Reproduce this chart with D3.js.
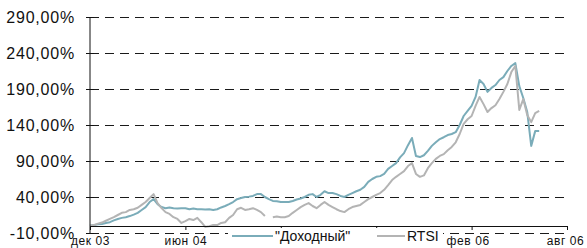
<!DOCTYPE html>
<html><head><meta charset="utf-8">
<script src="https://cdn.jsdelivr.net/npm/d3@7"></script>
<style>body{margin:0;background:#fff}svg{display:block}text{font-family:Arial,"Liberation Sans",sans-serif}</style>
</head><body><svg id="c" width="587" height="248"></svg>
<script>
const seriesNames = ['"Доходный"', 'RTSI'];
const dohodny = [0,1,2,2.5,4,5,7.5,9.5,11,12,13.5,15.5,18,22,26,33,37,30,26,24.5,25.5,24.5,24,24.5,24.5,23,24,23,23,22.5,23,22,23,25.5,27.5,30,33,37,38.5,40,40.5,41.5,44,44,40,37,34.5,34,33,33,33,34.5,36.5,38,40,43,44,40,43,48,45.5,45.5,44,41.5,40,43,45.5,48,50,54,61,65,68,69,72,79,83,87,95,101,112,122,97,95.5,98,104,111,116,120.5,123,126,127.5,130,140,152.5,159.5,166.5,179,202.5,197,186,191.5,195.5,202.5,206.5,215,222,226,194,177.5,158,111,131.5,131.5];
const rtsi = [0,1,3,4.5,7,9.5,12,15,18,19,22,23,25,29,33,38.5,44,31.5,24.5,19,16.5,12,9.5,4,6.5,9.5,8,11,5,-1.5,-0.5,1,1,4,5,11,15,23,25,22,23,24.5,22,19,13.5,null,12,13,12,12,13.5,18,22,26,29,31.5,27.5,24.5,29,33,29,26,23,20.5,19,23,26,27.5,29,33,37,40,43,45.5,50,56.5,63.5,68,72,76,83,87,72,68,70,80,87,93,97,99.5,105,109.5,116,127.5,141.5,148,152.5,166.5,179,169,158,163.5,167.5,176,186,197,213.5,222,161,176,154,144,156.5,159.5];
const yTicks = [-10,40,90,140,190,240,290];
const xTickIdx = [0,24,48,72,96,120];
const xTickLabels = ["дек 03","июн 04","","","фев 06","авг 06"];
const colors = ["#7aacb9","#b4b4b4"];

const svg = d3.select("#c");
const x = d3.scaleLinear().domain([0,120]).range([90,567]);
const y = d3.scaleLinear().domain([-10,290]).range([233,17]);

// gridlines
svg.append("g").selectAll("line").data(yTicks).join("line")
  .attr("x1",90).attr("x2",567).attr("y1",d=>Math.round(y(d))+0.5).attr("y2",d=>Math.round(y(d))+0.5)
  .attr("stroke","#1a1a1a").attr("stroke-width",1).attr("stroke-dasharray","9,6");

// series lines
const line = d3.line().defined(d=>d!=null).x((d,i)=>x(i)).y(d=>y(d));
[dohodny, rtsi].forEach((s,k)=>{
  svg.append("path").datum(s).attr("d",line).attr("fill","none")
    .attr("stroke",colors[k]).attr("stroke-width",2).attr("stroke-linejoin","round");
});
// y axis
const yAxis = d3.axisLeft(y).tickValues(yTicks).tickSize(4)
  .tickFormat(d=>d.toFixed(2).replace('.',',')+'%');
const gy = svg.append("g").attr("transform","translate(90,0)").call(yAxis);
gy.select(".domain").attr("stroke","#111").attr("stroke-width",1).attr("d","M0,"+y(290)+"V"+y(-10));
gy.selectAll(".tick line").attr("stroke","#111").attr("x1",4).attr("x2",-4).attr("stroke-width",1);
gy.selectAll(".tick text").attr("x",-15).attr("font-size","16px").attr("letter-spacing","0.8px").attr("fill","#111").attr("font-family","Arial, 'Liberation Sans', sans-serif");

// x axis at 0
const xAxis = d3.axisBottom(x).tickValues(xTickIdx).tickSize(4).tickFormat((d,i)=>xTickLabels[i]);
const gx = svg.append("g").attr("transform","translate(0,"+Math.round(y(0))+")").call(xAxis);
gx.select(".domain").attr("stroke","#111").attr("stroke-width",1).attr("d","M90,0.5H567");
gx.selectAll(".tick line").attr("stroke","#111").attr("stroke-width",1);
gx.selectAll(".tick text").attr("y",y(-10)-y(0)+3).attr("dy","0.71em").attr("font-size","12px").attr("letter-spacing","0.6px").attr("fill","#111").attr("font-family","Arial, 'Liberation Sans', sans-serif");
gx.selectAll(".tick text").filter((d,i)=>i===4).attr("dx",-4);
gx.selectAll(".tick text").filter((d,i)=>i===5).attr("dx",-2);

// legend
const lg = svg.append("g");
lg.append("rect").attr("x",228).attr("y",228).attr("width",215).attr("height",20).attr("fill","#fff");
const lgItems = [{x1:232,x2:273,tx:275},{x1:377,x2:405,tx:407}];
lgItems.forEach((it,k)=>{
  lg.append("line").attr("x1",it.x1).attr("x2",it.x2).attr("y1",236).attr("y2",236).attr("stroke",colors[k]).attr("stroke-width",2);
  lg.append("text").attr("x",it.tx).attr("y",241).attr("font-size","14px").attr("fill","#111").text(seriesNames[k]);
});
</script></body></html>
